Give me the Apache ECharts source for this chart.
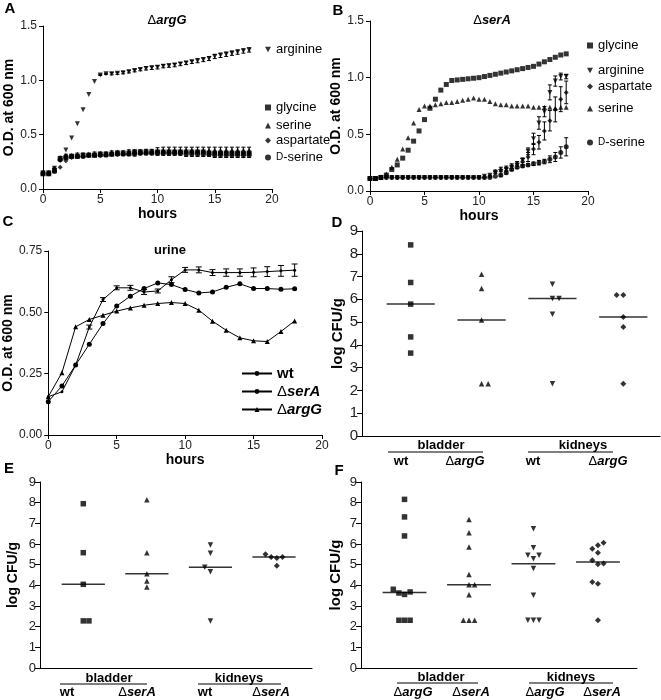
<!DOCTYPE html>
<html>
<head>
<meta charset="utf-8">
<script src="https://cdn.jsdelivr.net/npm/echarts@6/dist/echarts.min.js"></script>
<style>
html, body { margin: 0; padding: 0; background: #fff; }
#main { width: 661px; height: 700px; }
</style>
</head>
<body>
<div id="main"></div>
<script>
// growth curves A and B, O.D. at 600 nm every half hour
const hoursAB = [0, 0.5, 1, 1.5, 2, 2.5, 3, 3.5, 4, 4.5, 5, 5.5, 6, 6.5, 7, 7.5, 8, 8.5, 9, 9.5,
  10, 10.5, 11, 11.5, 12, 12.5, 13, 13.5, 14, 14.5, 15, 15.5, 16, 16.5, 17, 17.5, 18];

// A: ΔargG
const aArginine = [0.15, 0.15, 0.19, 0.26, 0.36, 0.47, 0.60, 0.73, 0.87, 0.99, 1.05, 1.06, 1.06, 1.065, 1.07, 1.08, 1.09, 1.10, 1.11, 1.115,
  1.12, 1.13, 1.135, 1.14, 1.15, 1.16, 1.17, 1.18, 1.19, 1.20, 1.22, 1.23, 1.24, 1.25, 1.26, 1.27, 1.28];
const aArginineErr = [0, 0, 0, 0, 0, 0, 0, 0, 0, 0, 0.005, 0.005, 0.01, 0.01, 0.01, 0.012, 0.012, 0.012, 0.015, 0.015,
  0.015, 0.015, 0.015, 0.015, 0.015, 0.015, 0.015, 0.018, 0.018, 0.018, 0.02, 0.02, 0.02, 0.02, 0.02, 0.02, 0.02];
const aGlycine = [0.14, 0.14, 0.17, 0.28, 0.29, 0.30, 0.30, 0.31, 0.31, 0.31, 0.32, 0.32, 0.32, 0.33, 0.33, 0.33, 0.34, 0.34, 0.34, 0.34,
  0.34, 0.34, 0.34, 0.34, 0.34, 0.34, 0.34, 0.34, 0.34, 0.33, 0.33, 0.33, 0.33, 0.33, 0.33, 0.33, 0.33];
const aSerine = [0.15, 0.15, 0.18, 0.29, 0.31, 0.31, 0.32, 0.32, 0.32, 0.33, 0.33, 0.33, 0.34, 0.34, 0.34, 0.35, 0.35, 0.35, 0.35, 0.35,
  0.36, 0.36, 0.36, 0.36, 0.36, 0.36, 0.36, 0.36, 0.36, 0.36, 0.36, 0.36, 0.36, 0.36, 0.36, 0.36, 0.36];
const aSerineErr = [0.01, 0.01, 0.01, 0.01, 0.01, 0.01, 0.01, 0.01, 0.01, 0.01, 0.01, 0.01, 0.01, 0.01, 0.01, 0.01, 0.01, 0.01, 0.015, 0.015,
  0.02, 0.025, 0.025, 0.025, 0.025, 0.025, 0.025, 0.025, 0.025, 0.025, 0.025, 0.025, 0.025, 0.025, 0.025, 0.025, 0.025];
const aAspartate = [0.15, 0.15, 0.19, 0.20, 0.26, 0.29, 0.30, 0.30, 0.31, 0.31, 0.31, 0.32, 0.32, 0.32, 0.33, 0.33, 0.33, 0.33, 0.34, 0.34,
  0.34, 0.34, 0.34, 0.34, 0.34, 0.34, 0.34, 0.34, 0.34, 0.34, 0.33, 0.33, 0.33, 0.33, 0.33, 0.33, 0.33];
const aDSerine = [0.14, 0.14, 0.16, 0.27, 0.29, 0.30, 0.30, 0.30, 0.31, 0.31, 0.31, 0.31, 0.32, 0.32, 0.32, 0.32, 0.32, 0.33, 0.33, 0.33,
  0.33, 0.33, 0.33, 0.33, 0.33, 0.32, 0.32, 0.32, 0.32, 0.32, 0.31, 0.31, 0.31, 0.31, 0.31, 0.31, 0.31];
const aDSerineErr = [0, 0, 0, 0.01, 0.01, 0.01, 0.01, 0.01, 0.01, 0.01, 0.01, 0.01, 0.01, 0.01, 0.01, 0.01, 0.015, 0.015, 0.015, 0.015,
  0.02, 0.02, 0.02, 0.02, 0.02, 0.02, 0.02, 0.02, 0.02, 0.02, 0.02, 0.02, 0.02, 0.02, 0.02, 0.02, 0.02];

// B: ΔserA
const bGlycine = [0.11, 0.11, 0.12, 0.14, 0.19, 0.23, 0.29, 0.36, 0.44, 0.53, 0.63, 0.73, 0.81, 0.89, 0.94, 0.975, 0.98, 0.985, 0.99, 0.995,
  1.00, 1.01, 1.02, 1.03, 1.04, 1.05, 1.06, 1.07, 1.08, 1.09, 1.10, 1.12, 1.14, 1.16, 1.18, 1.20, 1.21];
const bSerine = [0.11, 0.11, 0.12, 0.15, 0.21, 0.28, 0.37, 0.47, 0.60, 0.72, 0.75, 0.75, 0.76, 0.77, 0.78, 0.78, 0.79, 0.80, 0.81, 0.82,
  0.81, 0.81, 0.79, 0.77, 0.76, 0.76, 0.75, 0.75, 0.75, 0.75, 0.74, 0.74, 0.74, 0.74, 0.73, 0.74, 0.74];
const bArginine = [0.11, 0.11, 0.12, 0.12, 0.12, 0.12, 0.12, 0.12, 0.12, 0.12, 0.12, 0.12, 0.12, 0.12, 0.12, 0.12, 0.12, 0.12, 0.12, 0.12,
  0.12, 0.13, 0.14, 0.16, 0.17, 0.19, 0.21, 0.23, 0.27, 0.35, 0.46, 0.60, 0.70, 0.87, 0.97, 1.01, 1.01];
const bArginineErr = [0, 0, 0, 0, 0, 0, 0, 0, 0, 0, 0, 0, 0, 0, 0, 0, 0, 0, 0, 0,
  0, 0, 0, 0, 0, 0, 0, 0, 0.02, 0.03, 0.05, 0.055, 0.045, 0.066, 0.045, 0.03, 0.02];
const bAspartate = [0.11, 0.11, 0.12, 0.12, 0.12, 0.12, 0.12, 0.12, 0.12, 0.12, 0.12, 0.12, 0.12, 0.12, 0.12, 0.12, 0.12, 0.12, 0.12, 0.12,
  0.12, 0.12, 0.13, 0.17, 0.19, 0.20, 0.22, 0.24, 0.26, 0.30, 0.37, 0.43, 0.53, 0.62, 0.72, 0.81, 0.87];
const bAspartateErr = [0, 0, 0, 0, 0, 0, 0, 0, 0, 0, 0, 0, 0, 0, 0, 0, 0, 0, 0, 0,
  0, 0, 0.01, 0.015, 0.02, 0.02, 0.02, 0.02, 0.03, 0.04, 0.05, 0.06, 0.08, 0.09, 0.11, 0.11, 0.10];
const bDSerine = [0.11, 0.11, 0.12, 0.12, 0.12, 0.12, 0.12, 0.12, 0.12, 0.12, 0.12, 0.12, 0.12, 0.12, 0.12, 0.12, 0.12, 0.12, 0.12, 0.12,
  0.12, 0.12, 0.12, 0.13, 0.14, 0.16, 0.19, 0.21, 0.22, 0.23, 0.24, 0.25, 0.26, 0.28, 0.30, 0.34, 0.39];
const bDSerineErr = [0, 0, 0, 0, 0, 0, 0, 0, 0, 0, 0, 0, 0, 0, 0, 0, 0, 0, 0, 0,
  0, 0, 0, 0, 0.01, 0.01, 0.01, 0.01, 0.01, 0.01, 0.015, 0.02, 0.02, 0.03, 0.04, 0.05, 0.08];

// C: urine, hourly
const hoursC = [0, 1, 2, 3, 4, 5, 6, 7, 8, 9, 10, 11, 12, 13, 14, 15, 16, 17, 18];
const cWt = [0.156, 0.176, 0.285, 0.44, 0.552, 0.6, 0.6, 0.583, 0.587, 0.633, 0.673, 0.673, 0.662, 0.662, 0.662, 0.663, 0.666, 0.669, 0.672];
const cWtErr = [0, 0, 0, 0.008, 0.008, 0.008, 0.01, 0.01, 0.008, 0.012, 0.01, 0.012, 0.012, 0.015, 0.015, 0.018, 0.02, 0.022, 0.025];
const cSerA = [0.136, 0.2, 0.285, 0.37, 0.454, 0.526, 0.566, 0.597, 0.62, 0.613, 0.593, 0.579, 0.583, 0.602, 0.616, 0.597, 0.597, 0.594, 0.596];
const cArgG = [0.156, 0.254, 0.441, 0.471, 0.488, 0.505, 0.518, 0.529, 0.536, 0.54, 0.536, 0.509, 0.464, 0.427, 0.396, 0.384, 0.381, 0.422, 0.465];

// D, E, F: log CFU/g per mouse; *Slot = sideways place of a dot so equal values sit next to each other
const dBladderWt = [8.39, 6.74, 5.79, 4.35, 3.64];
const dBladderArgG = [7.10, 6.48, 5.09, 2.29, 2.29];
const dKidneysWt = [6.66, 6.04, 6.04, 5.34, 2.29];
const dKidneysArgG = [6.19, 6.19, 5.22, 4.78, 2.29];
const dBladderWtSlot = [0, 0, 0, 0, 0];
const dBladderArgGSlot = [0, 0, 0, 0, 1];
const dKidneysWtSlot = [0, 0, 1, 0, 0];
const dKidneysArgGSlot = [-1, 0, 0, 0, 0];

const eBladderWt = [7.95, 5.58, 4.05, 2.28, 2.28];
const eBladderSerA = [8.14, 5.58, 4.56, 4.21, 3.92];
const eKidneysWt = [5.95, 5.55, 4.87, 4.66, 2.28];
const eKidneysSerA = [5.50, 5.37, 5.32, 5.37, 4.95];
const eBladderWtSlot = [0, 0, 0, 0, 1];
const eBladderSerASlot = [0, 0, 0, 0, 0];
const eKidneysWtSlot = [0, 0, -1, 0, 0];
const eKidneysSerASlot = [-1.5, -0.5, 0.5, 1.5, 0.5];

const fBladderArgG = [8.16, 7.31, 6.39, 3.81, 3.63, 3.56, 3.68, 2.31, 2.31, 2.31];
const fBladderSerA = [7.18, 6.55, 5.85, 4.52, 4.03, 4.03, 3.55, 2.31, 2.31, 2.31];
const fKidneysArgG = [6.74, 5.82, 5.45, 5.45, 5.29, 4.81, 3.52, 2.31, 2.31, 2.31];
const fKidneysSerA = [6.06, 5.94, 5.77, 5.58, 5.21, 5.02, 5.06, 4.16, 4.08, 2.31];
const fBladderArgGSlot = [0, 0, 0, -2, -1, 0, 1, -1, 0, 1];
const fBladderSerASlot = [0, 0, 0, 0, 0, 1, 0, -1, 0, 1];
const fKidneysArgGSlot = [0, 0, -1, 1, 0, 0, 0, -1, 0, 1];
const fKidneysSerASlot = [1, 0, -1, 0, -1, 0, 1, -1, 0, 0];

const FONT = '"Liberation Sans", Arial, Helvetica, sans-serif';
const RICH = {
  n: { fontFamily: FONT, fontSize: 13, fontWeight: 'normal', color: '#000' },
  i: { fontFamily: FONT, fontSize: 13, fontWeight: 'bold', fontStyle: 'italic', color: '#000' },
  b: { fontFamily: FONT, fontSize: 13, fontWeight: 'bold', color: '#000' },
  s: { fontFamily: FONT, fontSize: 10, color: '#000' },
  t: { fontFamily: FONT, fontSize: 13, color: '#000' }
};
const DOWN_TRIANGLE = 'path://M0,0L10,0L5,9Z';

function strainText(s) {
  return s.charAt(0) === 'Δ' ? '{n|Δ}{i|' + s.slice(1) + '}' : '{b|' + s + '}';
}

function zip(xs, ys) {
  return xs.map((x, i) => [x, ys[i]]);
}

function median(vals) {
  const v = vals.slice().sort((a, b) => a - b);
  const m = Math.floor(v.length / 2);
  return v.length % 2 ? v[m] : (v[m - 1] + v[m]) / 2;
}

function timeAxis(grid, gap) {
  return {
    gridIndex: grid, type: 'value', min: 0, max: 20, interval: 5,
    name: 'hours', nameLocation: 'middle', nameGap: gap,
    nameTextStyle: { fontFamily: FONT, fontSize: 14, fontWeight: 'bold', color: '#000' },
    axisLine: { show: true, onZero: false, lineStyle: { color: '#000', width: 1 } },
    axisTick: { show: true, length: 4, lineStyle: { color: '#000' } },
    axisLabel: { fontFamily: FONT, fontSize: 12, color: '#222', margin: 5 },
    splitLine: { show: false }
  };
}

function odAxis(grid, max, step, digits, gap) {
  return {
    gridIndex: grid, type: 'value', min: 0, max: max, interval: step,
    name: 'O.D. at 600 nm', nameLocation: 'middle', nameGap: gap,
    nameTextStyle: { fontFamily: FONT, fontSize: 14, fontWeight: 'bold', color: '#000' },
    axisLine: { show: true, onZero: false, lineStyle: { color: '#000', width: 1 } },
    axisTick: { show: true, length: 4, lineStyle: { color: '#000' } },
    axisLabel: { fontFamily: FONT, fontSize: 12, color: '#222', margin: 6, formatter: v => v.toFixed(digits) },
    splitLine: { show: false }
  };
}

function groupAxis(grid, min, max) {
  return {
    gridIndex: grid, type: 'value', min: min, max: max,
    axisLine: { show: true, onZero: false, lineStyle: { color: '#000', width: 1 } },
    axisTick: { show: false }, axisLabel: { show: false }, splitLine: { show: false }
  };
}

function cfuAxis(grid, gap, size, nameSize) {
  return {
    gridIndex: grid, type: 'value', min: 0, max: 9, interval: 1,
    name: 'log CFU/g', nameLocation: 'middle', nameGap: gap,
    nameTextStyle: { fontFamily: FONT, fontSize: nameSize, fontWeight: 'bold', color: '#000' },
    axisLine: { show: true, onZero: false, lineStyle: { color: '#000', width: 1 } },
    axisTick: { show: true, length: 5, lineStyle: { color: '#000' } },
    axisLabel: { fontFamily: FONT, fontSize: size, color: '#222', margin: 4 },
    splitLine: { show: false }
  };
}

function marks(name, axis, xs, ys, symbol, size, rotate) {
  return {
    name: name, type: 'scatter', xAxisIndex: axis, yAxisIndex: axis,
    symbol: symbol, symbolSize: size, symbolRotate: rotate || 0,
    itemStyle: { color: '#000' }, z: 3, data: zip(xs, ys)
  };
}

function errorBars(axis, xs, ys, errs, cap) {
  const data = [];
  xs.forEach((x, i) => { if (errs[i] > 0) data.push([x, ys[i] - errs[i], ys[i] + errs[i]]); });
  return {
    type: 'custom', xAxisIndex: axis, yAxisIndex: axis, silent: true, z: 2,
    data: data, encode: { x: 0, y: [1, 2] },
    renderItem: function (params, api) {
      const lo = api.coord([api.value(0), api.value(1)]);
      const hi = api.coord([api.value(0), api.value(2)]);
      const st = { stroke: '#000', lineWidth: 1 };
      return {
        type: 'group', children: [
          { type: 'line', shape: { x1: lo[0], y1: lo[1], x2: hi[0], y2: hi[1] }, style: st },
          { type: 'line', shape: { x1: lo[0] - cap, y1: lo[1], x2: lo[0] + cap, y2: lo[1] }, style: st },
          { type: 'line', shape: { x1: hi[0] - cap, y1: hi[1], x2: hi[0] + cap, y2: hi[1] }, style: st }
        ]
      };
    }
  };
}

function dots(axis, pos, vals, slots, symbol, rotate, step) {
  return {
    type: 'scatter', xAxisIndex: axis, yAxisIndex: axis, symbol: symbol, symbolRotate: rotate,
    symbolSize: symbol === 'diamond' ? 6 : 5.5, itemStyle: { color: '#000' }, z: 3, silent: true,
    data: vals.map((v, i) => [pos + slots[i] * step, v])
  };
}

function medianLine(axis, pos, vals) {
  return {
    type: 'custom', xAxisIndex: axis, yAxisIndex: axis, silent: true, z: 2,
    data: [[pos, median(vals)]],
    renderItem: function (params, api) {
      const a = api.coord([api.value(0) - 0.34, api.value(1)]);
      const b = api.coord([api.value(0) + 0.34, api.value(1)]);
      return { type: 'line', shape: { x1: a[0], y1: a[1], x2: b[0], y2: b[1] }, style: { stroke: '#333', lineWidth: 1.5 } };
    }
  };
}

function dotPanel(axis, groups, step) {
  const out = [];
  groups.forEach((g, k) => {
    out.push(dots(axis, k + 1, g[0], g[1], g[2], g[3], step));
    out.push(medianLine(axis, k + 1, g[0]));
  });
  return out;
}

function text(x, y, str, size, weight) {
  return {
    type: 'text', x: x, y: y, silent: true,
    style: {
      text: str, rich: RICH, fill: '#000', fontFamily: FONT, fontSize: size, fontWeight: weight || 'bold',
      align: 'center', verticalAlign: 'middle', textAlign: 'center', textVerticalAlign: 'middle'
    }
  };
}

function hline(x1, x2, y) {
  return { type: 'line', silent: true, shape: { x1: x1, y1: y, x2: x2, y2: y }, style: { stroke: '#000', lineWidth: 1 } };
}

// labels under the dot plots: organ name, a rule, then the strains
function organLabels(organX, organY, rules, ruleY, strains, strainX, strainY) {
  const out = [];
  ['bladder', 'kidneys'].forEach((o, k) => {
    out.push(text(organX[k], organY, '{b|' + o + '}', 13));
    out.push(hline(rules[k][0], rules[k][1], ruleY));
  });
  strains.forEach((s, k) => out.push(text(strainX[k], strainY, strainText(s), 13)));
  return out;
}

const legendText = { fontFamily: FONT, fontSize: 13, color: '#000', rich: RICH };
function markLegend(name, left, top) {
  return {
    data: [name === 'arginine' ? { name: name, icon: DOWN_TRIANGLE } : name],
    left: left, top: top, padding: 0, itemWidth: 6, itemHeight: 6, itemGap: 0,
    selectedMode: false, textStyle: legendText,
    formatter: n => n === 'D-serine' ? '{s|D}{t|-serine}' : n
  };
}

const chart = echarts.init(document.getElementById('main'));
const option = {
  animation: false,
  backgroundColor: '#fff',
  grid: [
    { left: 43, top: 26, width: 229, height: 163 },
    { left: 370, top: 21, width: 218, height: 170 },
    { left: 43, top: 251, width: 279, height: 184 },
    { left: 362, top: 231, width: 298, height: 205 },
    { left: 40, top: 482, width: 272, height: 186 },
    { left: 361, top: 482, width: 276, height: 186 }
  ],
  xAxis: [
    timeAxis(0, 15), timeAxis(1, 14), timeAxis(2, 11),
    groupAxis(3, 0.313, 4.518), groupAxis(4, 0.319, 4.598), groupAxis(5, 0.325, 4.606)
  ],
  yAxis: [
    odAxis(0, 1.5, 0.5, 1, 27), odAxis(1, 1.5, 0.5, 1, 25), odAxis(2, 0.75, 0.25, 2, 27),
    cfuAxis(3, 15, 15, 15), cfuAxis(4, 20, 13, 14), cfuAxis(5, 18, 13, 15)
  ],
  legend: [
    markLegend('arginine', 265, 43),
    markLegend('glycine', 265, 101),
    markLegend('serine', 265, 119),
    markLegend('aspartate', 265, 134),
    markLegend('D-serine', 265, 151),
    markLegend('glycine', 587, 39),
    markLegend('arginine', 587, 64),
    markLegend('aspartate', 587, 80),
    markLegend('serine', 587, 102),
    markLegend('D-serine', 587, 136),
    {
      data: ['wt', 'ΔserA', 'ΔargG'], orient: 'vertical', left: 241, top: 366, padding: 0,
      itemWidth: 30, itemHeight: 6, itemGap: 3, selectedMode: false,
      textStyle: { fontFamily: FONT, fontSize: 15, fontWeight: 'bold', color: '#000',
        rich: {
          n: { fontFamily: FONT, fontSize: 15, fontWeight: 'normal', color: '#000' },
          i: { fontFamily: FONT, fontSize: 15, fontWeight: 'bold', fontStyle: 'italic', color: '#000' }
        } },
      formatter: n => n.charAt(0) === 'Δ' ? '{n|Δ}{i|' + n.slice(1) + '}' : n
    }
  ],
  graphic: [
    text(10, 9, 'A', 15), text(338, 11, 'B', 15), text(8, 222, 'C', 15),
    text(337, 223, 'D', 15), text(9, 469, 'E', 15), text(339, 471, 'F', 15),
    text(167, 20, '{n|Δ}{i|argG}', 13),
    text(492, 20, '{n|Δ}{i|serA}', 13),
    text(170, 250, '{b|urine}', 14)
  ].concat(
    organLabels([441, 583], 445, [[388, 483], [528, 613]], 452, ['wt', 'ΔargG', 'wt', 'ΔargG'], [401, 465, 533, 608], 461),
    organLabels([109, 239], 678, [[60, 147], [198, 281]], 684, ['wt', 'ΔserA', 'wt', 'ΔserA'], [67, 137, 205, 271], 692),
    organLabels([441, 571], 677, [[397, 478], [529, 613]], 683, ['ΔargG', 'ΔserA', 'ΔargG', 'ΔserA'], [413, 471, 545, 602], 692)
  ),
  series: [
    // A
    errorBars(0, hoursAB, aArginine, aArginineErr, 2),
    errorBars(0, hoursAB, aSerine, aSerineErr, 2),
    errorBars(0, hoursAB, aDSerine, aDSerineErr, 2),
    marks('arginine', 0, hoursAB, aArginine, 'triangle', 5, 180),
    marks('glycine', 0, hoursAB, aGlycine, 'rect', 5),
    marks('serine', 0, hoursAB, aSerine, 'triangle', 5),
    marks('aspartate', 0, hoursAB, aAspartate, 'diamond', 5),
    marks('D-serine', 0, hoursAB, aDSerine, 'circle', 5),
    // B
    errorBars(1, hoursAB, bArginine, bArginineErr, 2),
    errorBars(1, hoursAB, bAspartate, bAspartateErr, 2),
    errorBars(1, hoursAB, bDSerine, bDSerineErr, 2),
    marks('glycine', 1, hoursAB, bGlycine, 'rect', 5),
    marks('serine', 1, hoursAB, bSerine, 'triangle', 5),
    marks('arginine', 1, hoursAB, bArginine, 'triangle', 5, 180),
    marks('aspartate', 1, hoursAB, bAspartate, 'diamond', 5),
    marks('D-serine', 1, hoursAB, bDSerine, 'circle', 5),
    // C
    errorBars(2, hoursC, cWt, cWtErr, 3),
    { name: 'wt', type: 'line', xAxisIndex: 2, yAxisIndex: 2, data: zip(hoursC, cWt), symbol: 'circle', symbolSize: 3,
      itemStyle: { color: '#000' }, lineStyle: { color: '#000', width: 1 }, z: 3 },
    { name: 'ΔserA', type: 'line', xAxisIndex: 2, yAxisIndex: 2, data: zip(hoursC, cSerA), symbol: 'circle', symbolSize: 5,
      itemStyle: { color: '#000' }, lineStyle: { color: '#000', width: 1 }, z: 3 },
    { name: 'ΔargG', type: 'line', xAxisIndex: 2, yAxisIndex: 2, data: zip(hoursC, cArgG), symbol: 'triangle', symbolSize: 5,
      itemStyle: { color: '#000' }, lineStyle: { color: '#000', width: 1 }, z: 3 }
  ].concat(
    dotPanel(3, [
      [dBladderWt, dBladderWtSlot, 'rect', 0],
      [dBladderArgG, dBladderArgGSlot, 'triangle', 0],
      [dKidneysWt, dKidneysWtSlot, 'triangle', 180],
      [dKidneysArgG, dKidneysArgGSlot, 'diamond', 0]
    ], 0.094),
    dotPanel(4, [
      [eBladderWt, eBladderWtSlot, 'rect', 0],
      [eBladderSerA, eBladderSerASlot, 'triangle', 0],
      [eKidneysWt, eKidneysWtSlot, 'triangle', 180],
      [eKidneysSerA, eKidneysSerASlot, 'diamond', 0]
    ], 0.089),
    dotPanel(5, [
      [fBladderArgG, fBladderArgGSlot, 'rect', 0],
      [fBladderSerA, fBladderSerASlot, 'triangle', 0],
      [fKidneysArgG, fKidneysArgGSlot, 'triangle', 180],
      [fKidneysSerA, fKidneysSerASlot, 'diamond', 0]
    ], 0.087)
  )
};
chart.setOption(option);
</script>
</body>
</html>
